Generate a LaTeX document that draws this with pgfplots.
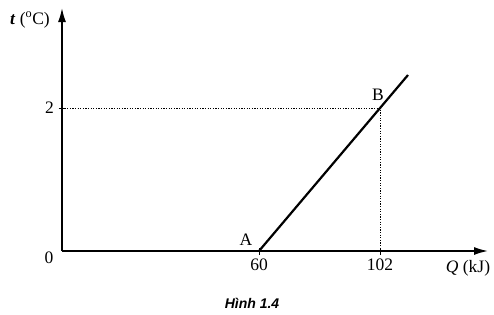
\documentclass[border=0pt]{standalone}
\usepackage{fontspec}
\setmainfont{Liberation Serif}
\newfontfamily\capfont{Liberation Sans}
\usepackage{pgfplots}
\pgfplotsset{compat=1.18}
\usetikzlibrary{arrows.meta}
\newcommand{\fs}{\fontsize{17.5}{20}\selectfont}
\begin{document}
\begin{tikzpicture}
\path[use as bounding box] (-62pt,-63pt) rectangle (432pt,251pt);
\begin{axis}[
  anchor=origin, at={(0pt,0pt)},
  x=1pt, y=1pt,
  xmin=0, xmax=426, ymin=0, ymax=243,
  enlargelimits=false,
  axis lines=left,
  axis line style={line width=1.6pt, -{Latex[length=14pt,width=8pt]}},
  xtick={197,318}, xticklabels={60,102},
  ytick={143}, yticklabels={2},
  tick align=center, major tick length=7pt,
  tick style={black, line width=0.9pt},
  tick label style={font=\fs},
  xticklabel style={yshift=-1pt},
  yticklabel style={xshift=-1pt},
  clip=false,
]
\addplot[black, line width=0.7pt, dash pattern=on 1.2pt off 1.4pt] coordinates {(0,143) (318,143) (318,0)};
\addplot[black, line width=2.2pt] coordinates {(197,0) (346,176)};
\node at (axis cs:184,11) {\fs A};
\node at (axis cs:316,156) {\fs B};
\node at (axis cs:-13,-7) {\fs 0};
\node at (axis cs:-32,231) {\fs \textbf{\textit{t}} (\textsuperscript{o}C)};
\node at (axis cs:406,-17) {\fs \textit{Q} (kJ)};
\node at (axis cs:190,-52) {\capfont\fontsize{14}{16}\selectfont\bfseries\itshape Hình 1.4};
\end{axis}
\end{tikzpicture}
\end{document}
